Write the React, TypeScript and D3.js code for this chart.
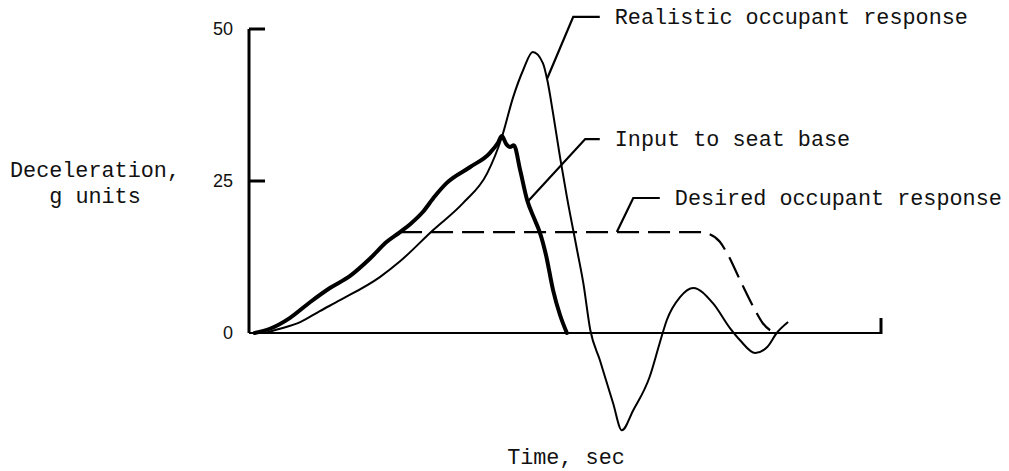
import React from 'react';
import * as d3 from 'd3';

// time in arbitrary units (axis has no time ticks), deceleration in g
const yTicks = [0, 25, 50];

const inputTime = [0.9, 3.3, 6.5, 9.7, 12.8, 16.0, 19.2, 21.8, 23.9, 25.5, 27.5, 29.4, 31.3, 35.0, 38.1, 39.4, 40.0, 40.7, 41.3, 41.9, 42.9, 44.0, 45.1, 46.0, 47.0, 48.1, 49.2, 50.3];
const inputG = [0, 0.7, 2.5, 5.1, 7.4, 9.4, 12.3, 15.0, 16.6, 17.9, 19.9, 22.5, 24.7, 27.3, 29.6, 31.3, 32.4, 31.1, 30.6, 30.9, 26.8, 21.9, 18.9, 16.6, 12.8, 7.1, 3.0, 0];

const realTime = [2.5, 4.9, 8.1, 11.2, 14.4, 20.7, 23.9, 29.1, 33.9, 37.7, 40.0, 41.8, 43.4, 44.9, 46.5, 47.2, 48.1, 49.2, 50.3, 51.9, 52.9, 54.0, 55.5, 57.6, 59.0, 60.8, 63.4, 65.0, 66.1, 68.2, 70.3, 73.4, 76.1, 77.7, 80.1, 82.0, 83.5, 85.3];
const realG = [0, 0.7, 1.8, 3.6, 5.4, 9.2, 11.8, 16.9, 21.4, 26.3, 32.2, 38.8, 43.3, 46.2, 44.4, 41.6, 36.2, 29.0, 22.4, 13.7, 8.2, 0.5, -4.4, -11.5, -16.0, -12.7, -7.2, -1.6, 2.1, 5.9, 7.4, 4.9, 0.8, -1.2, -3.3, -2.3, 0, 1.8];

const desiredTime = [23.9, 71.4, 72.5, 74.5, 75.6, 77.7, 79.8, 81.3, 83.2];
const desiredG = [16.6, 16.6, 16.4, 15.0, 13.2, 8.7, 4.3, 1.6, 0];

// leader lines: point on curve -> elbow -> end of horizontal stroke
const notes = [
  { text: 'Realistic occupant response', at: [47.2, 41.9], elbow: [51.3, 52.0], end: [55.5, 52.0] },
  { text: 'Input to seat base', at: [44.0, 21.5], elbow: [53.2, 31.9], end: [55.5, 31.9] },
  { text: 'Desired occupant response', at: [58.2, 16.6], elbow: [60.8, 22.2], end: [65.0, 22.2] },
];

const W = 1009;
const H = 471;
const mono = "'Liberation Mono', 'Courier New', monospace";
const sans = "'Liberation Sans', Arial, sans-serif";

const App = () => {
  const x = d3.scaleLinear().domain([0, 100]).range([249, 881]);
  const y = d3.scaleLinear().domain([0, 50]).range([333, 29]);

  const line = d3.line<number>()
    .curve(d3.curveMonotoneX);

  const pathOf = (ts: number[], vs: number[]) =>
    line.x((_, i) => x(ts[i])).y((_, i) => y(vs[i]))(ts) || '';

  const inputPath = pathOf(inputTime, inputG);
  const realPath = pathOf(realTime, realG);
  const desiredPath = pathOf(desiredTime, desiredG);

  return (
    <div style={{ position: 'absolute', left: 0, top: 0 }}>
      <svg width={W} height={H} style={{ display: 'block', background: '#fff' }}>
        {/* y axis */}
        <line x1={x(0)} x2={x(0)} y1={y(50)} y2={y(0)} stroke="#000" strokeWidth={3} />
        {yTicks.filter(t => t > 0).map(t => (
          <line key={`yt-${t}`} x1={x(0)} x2={x(0) + 16} y1={y(t)} y2={y(t)} stroke="#000" strokeWidth={3} />
        ))}
        {yTicks.map(t => (
          <text key={`yl-${t}`} x={233} y={y(t) + 6} textAnchor="end"
            style={{ fontFamily: sans, fontSize: 18 }} fill="#111">{t}</text>
        ))}

        {/* x axis */}
        <line x1={x(0)} x2={x(100)} y1={y(0)} y2={y(0)} stroke="#000" strokeWidth={2} />
        <line x1={x(100)} x2={x(100)} y1={y(0) + 1} y2={y(0) - 15} stroke="#000" strokeWidth={3} />

        {/* curves */}
        <path d={desiredPath} fill="none" stroke="#000" strokeWidth={2.2} strokeDasharray="22,9" />
        <path d={realPath} fill="none" stroke="#000" strokeWidth={2} strokeLinejoin="round" />
        <path d={inputPath} fill="none" stroke="#000" strokeWidth={4} strokeLinejoin="round" strokeLinecap="round" />

        {/* annotations */}
        {notes.map(n => (
          <g key={n.text}>
            <polyline
              points={[n.at, n.elbow, n.end].map(p => `${x(p[0])},${y(p[1])}`).join(' ')}
              fill="none" stroke="#000" strokeWidth={2.2} />
            <text x={x(n.end[0]) + 15} y={y(n.end[1]) + 7}
              style={{ fontFamily: mono, fontSize: 21.8 }} fill="#111">{n.text}</text>
          </g>
        ))}

        {/* axis titles */}
        <text x={95} y={177} textAnchor="middle" style={{ fontFamily: mono, fontSize: 21.8 }} fill="#111">Deceleration,</text>
        <text x={95} y={203} textAnchor="middle" style={{ fontFamily: mono, fontSize: 21.8 }} fill="#111">g units</text>
        <text x={566} y={464} textAnchor="middle" style={{ fontFamily: mono, fontSize: 21.8 }} fill="#111">Time, sec</text>
      </svg>
    </div>
  );
};

export default App;
